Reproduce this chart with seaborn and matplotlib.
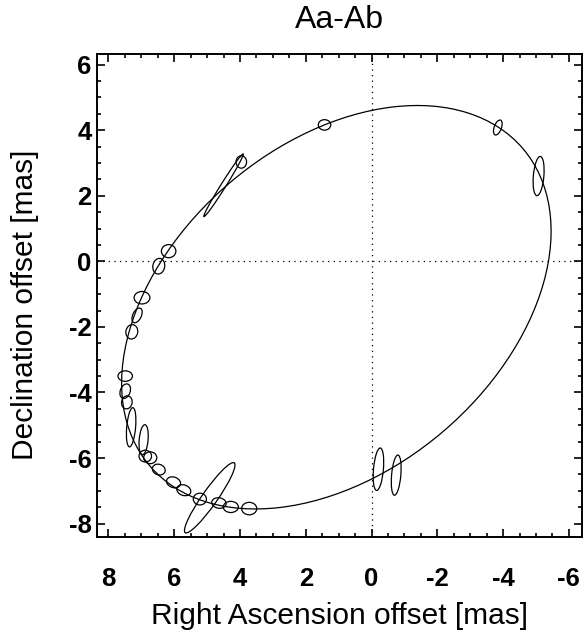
import matplotlib
matplotlib.use("Agg")
import matplotlib.pyplot as plt
from matplotlib.patches import Ellipse
from matplotlib.ticker import MultipleLocator
import seaborn as sns

# fitted relative orbit, drawn as an ellipse (mas)
orbit_center = (1.07, -1.40)
orbit_axes = (14.91, 9.98)
orbit_angle = -40.5

# measured positions of Ab relative to Aa, with error ellipses (mas, deg)
obs_ra = [1.43, -3.84, -5.08, 4.50, 3.96, 6.17, 6.47, 6.98, 7.13, 7.29,
          7.49, 7.49, 7.44, 7.31, 6.93, 6.88, 6.73, 6.47, 6.02, 5.71,
          5.22, 4.92, 4.64, 4.28, 3.72, -0.21, -0.75]
obs_dec = [4.16, 4.08, 2.60, 2.32, 3.03, 0.31, -0.15, -1.11, -1.65, -2.15,
           -3.50, -3.96, -4.30, -5.06, -5.44, -5.94, -5.99, -6.35, -6.74, -6.98,
           -7.25, -7.21, -7.37, -7.49, -7.54, -6.34, -6.52]
err_major = [0.38, 0.48, 1.20, 2.25, 0.38, 0.44, 0.48, 0.48, 0.48, 0.44,
             0.44, 0.46, 0.40, 1.20, 0.92, 0.38, 0.40, 0.40, 0.44, 0.44,
             0.40, 2.60, 0.44, 0.46, 0.46, 1.30, 1.23]
err_minor = [0.32, 0.22, 0.32, 0.15, 0.32, 0.40, 0.36, 0.38, 0.26, 0.36,
             0.32, 0.30, 0.32, 0.27, 0.27, 0.36, 0.36, 0.32, 0.32, 0.32,
             0.36, 0.46, 0.32, 0.34, 0.38, 0.30, 0.28]
err_angle = [0, 110, 95, 122, 90, 0, 100, 0, 115, 100,
             0, 110, 100, 95, 95, 0, 0, 20, 20, 20,
             0, 125, 10, 0, 0, 95, 95]

x_ticks = [8, 6, 4, 2, 0, -2, -4, -6]
y_ticks = [6, 4, 2, 0, -2, -4, -6, -8]

sns.set_theme(style="ticks")
plt.rcParams['font.family'] = ['Liberation Sans', 'DejaVu Sans']
plt.rcParams['axes.unicode_minus'] = False

fig = plt.figure(figsize=(5.84, 6.36), dpi=100)
ax = fig.add_axes([0.166, 0.156, 0.8306, 0.759])

ax.add_patch(Ellipse(orbit_center, orbit_axes[0], orbit_axes[1], angle=orbit_angle,
                     fill=False, edgecolor='black', linewidth=0.9))
for x, y, a, b, t in zip(obs_ra, obs_dec, err_major, err_minor, err_angle):
    ax.add_patch(Ellipse((x, y), a, b, angle=t, fill=False,
                         edgecolor='black', linewidth=0.9))

ax.axhline(0, color='black', linestyle=(0, (1, 3.5)), linewidth=0.9)
ax.axvline(0, color='black', linestyle=(0, (1, 3.5)), linewidth=0.9)

ax.set_xlim(8.35, -6.4)
ax.set_ylim(-8.4, 6.32)

ax.set_xticks(x_ticks)
ax.set_yticks(y_ticks)
ax.xaxis.set_minor_locator(MultipleLocator(0.5))
ax.yaxis.set_minor_locator(MultipleLocator(0.5))
ax.tick_params(which='both', direction='in', top=True, right=True, color='black')
ax.tick_params(which='major', length=6, width=1.2)
ax.tick_params(which='minor', length=3, width=1.2)
ax.tick_params(axis='x', which='major', pad=22)
ax.tick_params(axis='y', which='major', pad=4)
for lab in ax.get_xticklabels() + ax.get_yticklabels():
    lab.set_fontsize(18.5)
    lab.set_fontweight('bold')
    lab.set_color('black')
for sp in ax.spines.values():
    sp.set_linewidth(1.4)
    sp.set_color('black')

ax.set_xlabel('Right Ascension offset [mas]', fontsize=21.5, labelpad=8, color='black')
ax.set_ylabel('Declination offset [mas]', fontsize=21.5, color='black')
ax.yaxis.set_label_coords(-0.12, 0.48)
ax.set_title('Aa-Ab', fontsize=23, pad=19, color='black')

fig.savefig('out.png', dpi=100)
